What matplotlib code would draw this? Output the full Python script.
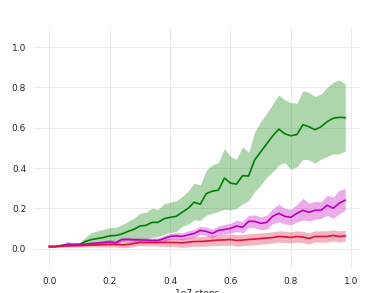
import numpy as np
import matplotlib
matplotlib.use("Agg")
import matplotlib.pyplot as plt

# training steps (in units of 1e7)
steps = np.arange(50) * 0.02

green_mean = [0.01, 0.01, 0.015, 0.02, 0.02, 0.02, 0.035, 0.045, 0.05, 0.055,
              0.063, 0.065, 0.072, 0.085, 0.095, 0.112, 0.115, 0.13, 0.13, 0.148,
              0.155, 0.16, 0.18, 0.20, 0.23, 0.22, 0.273, 0.285, 0.29, 0.35,
              0.325, 0.32, 0.362, 0.36, 0.44, 0.48, 0.52, 0.56, 0.593, 0.57,
              0.56, 0.566, 0.615, 0.605, 0.59, 0.605, 0.63, 0.647, 0.652, 0.65]
green_hi = [0.01, 0.015, 0.02, 0.035, 0.03, 0.03, 0.056, 0.08, 0.088, 0.096,
            0.105, 0.105, 0.118, 0.134, 0.15, 0.175, 0.18, 0.20, 0.195, 0.222,
            0.23, 0.237, 0.258, 0.286, 0.325, 0.316, 0.39, 0.415, 0.427, 0.498,
            0.457, 0.444, 0.507, 0.477, 0.58, 0.63, 0.672, 0.718, 0.763, 0.738,
            0.725, 0.722, 0.785, 0.775, 0.755, 0.768, 0.80, 0.825, 0.838, 0.818]
green_lo = [0.005, 0.008, 0.012, 0.015, 0.015, 0.015, 0.018, 0.02, 0.022, 0.025,
            0.03, 0.03, 0.035, 0.04, 0.045, 0.05, 0.05, 0.055, 0.06, 0.07,
            0.08, 0.085, 0.11, 0.122, 0.142, 0.14, 0.166, 0.175, 0.184, 0.195,
            0.192, 0.20, 0.222, 0.238, 0.283, 0.316, 0.354, 0.382, 0.415, 0.427,
            0.394, 0.407, 0.444, 0.44, 0.424, 0.444, 0.457, 0.47, 0.47, 0.485]

magenta_mean = [0.01, 0.01, 0.015, 0.02, 0.02, 0.02, 0.022, 0.025, 0.027, 0.03,
                0.033, 0.028, 0.045, 0.045, 0.043, 0.043, 0.042, 0.04, 0.04, 0.05,
                0.06, 0.063, 0.06, 0.068, 0.075, 0.09, 0.085, 0.075, 0.09, 0.095,
                0.10, 0.112, 0.105, 0.135, 0.135, 0.125, 0.13, 0.16, 0.175, 0.16,
                0.155, 0.175, 0.19, 0.18, 0.19, 0.19, 0.215, 0.20, 0.225, 0.24]
magenta_hi = [0.012, 0.013, 0.02, 0.027, 0.027, 0.027, 0.03, 0.033, 0.036, 0.04,
              0.045, 0.04, 0.055, 0.056, 0.054, 0.054, 0.054, 0.052, 0.053, 0.064,
              0.075, 0.08, 0.078, 0.088, 0.095, 0.11, 0.107, 0.097, 0.113, 0.12,
              0.126, 0.14, 0.134, 0.165, 0.167, 0.158, 0.165, 0.198, 0.22, 0.2,
              0.195, 0.22, 0.25, 0.225, 0.235, 0.232, 0.265, 0.255, 0.29, 0.297]
magenta_lo = [0.008, 0.008, 0.01, 0.014, 0.014, 0.014, 0.015, 0.017, 0.019, 0.021,
              0.022, 0.018, 0.033, 0.033, 0.032, 0.032, 0.031, 0.029, 0.028, 0.036,
              0.045, 0.047, 0.043, 0.05, 0.055, 0.07, 0.064, 0.055, 0.068, 0.072,
              0.076, 0.085, 0.078, 0.105, 0.104, 0.093, 0.097, 0.124, 0.132, 0.122,
              0.118, 0.132, 0.142, 0.137, 0.145, 0.149, 0.165, 0.15, 0.172, 0.19]

red_mean = [0.01, 0.01, 0.012, 0.013, 0.014, 0.015, 0.016, 0.017, 0.018, 0.019,
            0.02, 0.02, 0.018, 0.02, 0.025, 0.03, 0.03, 0.03, 0.03, 0.03,
            0.03, 0.03, 0.028, 0.032, 0.035, 0.035, 0.037, 0.04, 0.042, 0.043,
            0.045, 0.04, 0.042, 0.045, 0.047, 0.05, 0.052, 0.055, 0.06, 0.058,
            0.055, 0.06, 0.057, 0.05, 0.06, 0.06, 0.06, 0.065, 0.06, 0.063]
red_hi = [0.014, 0.014, 0.017, 0.019, 0.02, 0.022, 0.024, 0.026, 0.028, 0.03,
          0.032, 0.033, 0.032, 0.035, 0.04, 0.045, 0.046, 0.047, 0.048, 0.049,
          0.05, 0.051, 0.05, 0.055, 0.058, 0.059, 0.062, 0.065, 0.068, 0.07,
          0.072, 0.068, 0.07, 0.073, 0.075, 0.078, 0.08, 0.083, 0.088, 0.086,
          0.083, 0.088, 0.085, 0.078, 0.088, 0.088, 0.088, 0.092, 0.088, 0.09]
red_lo = [0.006, 0.006, 0.007, 0.007, 0.008, 0.008, 0.008, 0.008, 0.008, 0.008,
          0.008, 0.007, 0.004, 0.005, 0.01, 0.015, 0.014, 0.013, 0.012, 0.011,
          0.01, 0.009, 0.006, 0.009, 0.012, 0.011, 0.012, 0.015, 0.016, 0.016,
          0.018, 0.012, 0.014, 0.017, 0.019, 0.022, 0.024, 0.027, 0.032, 0.03,
          0.027, 0.032, 0.029, 0.022, 0.032, 0.032, 0.032, 0.038, 0.032, 0.036]

series = [
    (green_mean, green_lo, green_hi, 'green'),
    (magenta_mean, magenta_lo, magenta_hi, 'm'),
    (red_mean, red_lo, red_hi, 'crimson'),
]

fig = plt.figure(figsize=(3.83, 2.93), dpi=100)
ax = fig.add_axes([0.090, 0.083, 0.850, 0.8246])

for mean, lo, hi, col in series:
    ax.fill_between(steps, lo, hi, color=col, alpha=0.32, linewidth=0)
    ax.plot(steps, mean, color=col, linewidth=1.2)

ax.set_ylim(-0.1, 1.1)
ax.set_xticks([0.0, 0.2, 0.4, 0.6, 0.8, 1.0])
ax.set_yticks([0.0, 0.2, 0.4, 0.6, 0.8, 1.0])
ax.tick_params(length=0, labelsize=6.5, colors='#262626', pad=6)
ax.set_xlabel("1e7 steps", fontsize=6.5, color='#262626', labelpad=2)

for s in ax.spines.values():
    s.set_visible(False)
ax.grid(True, color='#ebebeb', linewidth=0.7)
ax.set_axisbelow(True)

fig.savefig("out.png", dpi=100)
